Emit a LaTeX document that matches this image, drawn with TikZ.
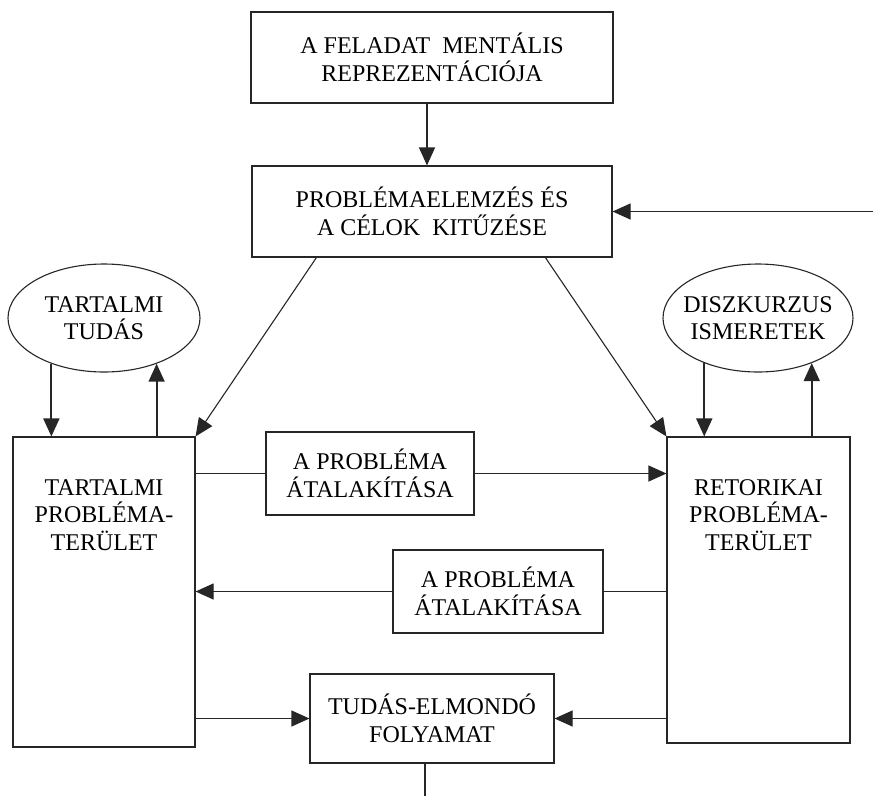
\documentclass[tikz,border=0pt]{standalone}
\usepackage{fontspec}
\setmainfont{Liberation Serif}
\usetikzlibrary{arrows.meta,shapes.geometric,calc}
\begin{document}
\begin{tikzpicture}[x=1pt,y=-1pt,
  every node/.style={font=\fontsize{24}{27.5}\selectfont, align=center, inner sep=0pt},
  box/.style={draw=black!85, line width=1.1pt, rectangle},
  oval/.style={draw=black!85, line width=1.1pt, ellipse},
  arr/.style={-{Triangle[length=18pt,width=16pt]}, line width=1.1pt, draw=black!85},
  arrthick/.style={arr, line width=1.8pt},
  ln/.style={line width=1.1pt, draw=black!85}]
\useasboundingbox (0,0) rectangle (873,796);

\node[box, minimum width=362pt, minimum height=91pt] (top) at (432,57.5) {A FELADAT\hspace{0.5em}MENTÁLIS\\REPREZENTÁCIÓJA};
\node[box, minimum width=360pt, minimum height=91pt] (box2) at (432,211.5) {PROBLÉMAELEMZÉS ÉS\\A CÉLOK\hspace{0.5em}KITŰZÉSE};

\node[oval, minimum width=192pt, minimum height=108pt] (tud) at (104,318) {};
\node (tudtxt) at (tud) {TARTALMI\\TUDÁS};
\node[oval, minimum width=190pt, minimum height=108pt] (disk) at (758,318) {};
\node (disktxt) at (disk) {DISZKURZUS\\ISMERETEK};

\node[box, minimum width=182pt, minimum height=310pt] (lbox) at (104,592) {};
\node (lboxtxt) at (104,515) {TARTALMI\\PROBLÉMA-\\TERÜLET};
\node[box, minimum width=183pt, minimum height=306pt] (rbox) at (758.5,590) {};
\node (rboxtxt) at (758.5,515) {RETORIKAI\\PROBLÉMA-\\TERÜLET};

\node[box, minimum width=208pt, minimum height=83pt] (boxA) at (370,473.5) {A PROBLÉMA\\ÁTALAKÍTÁSA};
\node[box, minimum width=210pt, minimum height=83pt] (boxB) at (498,591.5) {A PROBLÉMA\\ÁTALAKÍTÁSA};
\node[box, minimum width=244pt, minimum height=89pt] (bot) at (432,718.5) {TUDÁS-ELMONDÓ\\FOLYAMAT};

\coordinate (in) at (873,211.5);
\coordinate (out) at (425,796);

\draw[arr] ([xshift=-5pt]top.south) -- ([xshift=-5pt]box2.north);
\draw[arr] (in) -- (box2.east);
\draw[arr] ($(box2.south west)!0.18!(box2.south east)$) -- (lbox.north east);
\draw[arr] ($(box2.south west)!0.814!(box2.south east)$) -- (rbox.north west);

\draw[arrthick] (tud.221) -- (tud.221 |- lbox.north);
\draw[arrthick] (tud.319 |- lbox.north) -- (tud.319);
\draw[arrthick] (disk.220.6) -- (disk.220.6 |- rbox.north);
\draw[arrthick] (disk.320.6 |- rbox.north) -- (disk.320.6);

\draw[ln] (lbox.east |- boxA) -- (boxA.west);
\draw[arr] (boxA.east) -- (boxA.east -| rbox.west);
\draw[ln] (rbox.west |- boxB) -- (boxB.east);
\draw[arr] (boxB.west) -- (boxB.west -| lbox.east);
\draw[arr] (lbox.east |- bot) -- (bot.west);
\draw[arr] (rbox.west |- bot) -- (bot.east);
\draw[ln] ([xshift=-7pt]bot.south) -- (out);
\end{tikzpicture}
\end{document}
